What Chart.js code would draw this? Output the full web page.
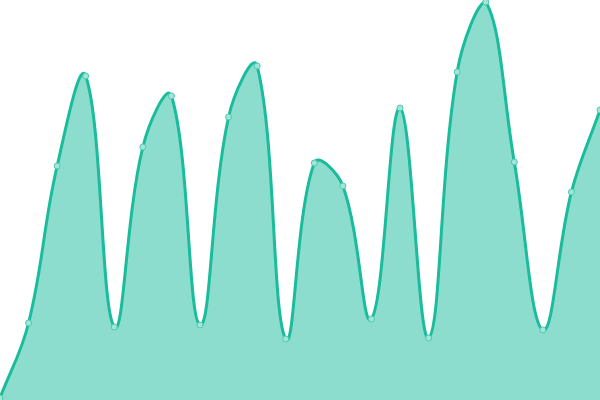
<!DOCTYPE html>
<html>
<head>
<meta charset="utf-8">
<script src="https://cdn.jsdelivr.net/npm/chart.js@4"></script>
<style>
  html, body { margin: 0; padding: 0; background: #fff; }
  #wrap { width: 600px; height: 400px; }
</style>
</head>
<body>
<div id="wrap"><canvas id="chart"></canvas></div>
<script>
  const labels = ["1", "2", "3", "4", "5", "6", "7", "8", "9", "10", "11",
    "12", "13", "14", "15", "16", "17", "18", "19", "20", "21", "22"];
  const values = [2, 77, 234, 324, 73, 253, 304, 75, 283, 334, 61,
    237, 214, 81, 292, 62, 328, 398, 238, 70, 208, 290];

  const ctx = document.getElementById("chart").getContext("2d");
  new Chart(ctx, {
    type: "line",
    data: {
      labels,
      datasets: [
        {
          data: values,
          fill: "origin",
          tension: 0.4,
          borderColor: "#1abc9c",
          backgroundColor: "rgba(26, 188, 156, 0.5)",
          borderWidth: 3,
          pointRadius: 3,
          pointBorderWidth: 1,
          pointBorderColor: "#4ccaae",
          pointBackgroundColor: "#a3e5d8",
        },
      ],
    },
    options: {
      responsive: true,
      maintainAspectRatio: false,
      animation: false,
      layout: { padding: 0, autoPadding: false },
      scales: {
        x: { display: false, offset: false },
        y: { display: false, min: 0, max: 400 },
      },
      plugins: {
        legend: { display: false },
        tooltip: { enabled: false },
      },
    },
  });
</script>
</body>
</html>
